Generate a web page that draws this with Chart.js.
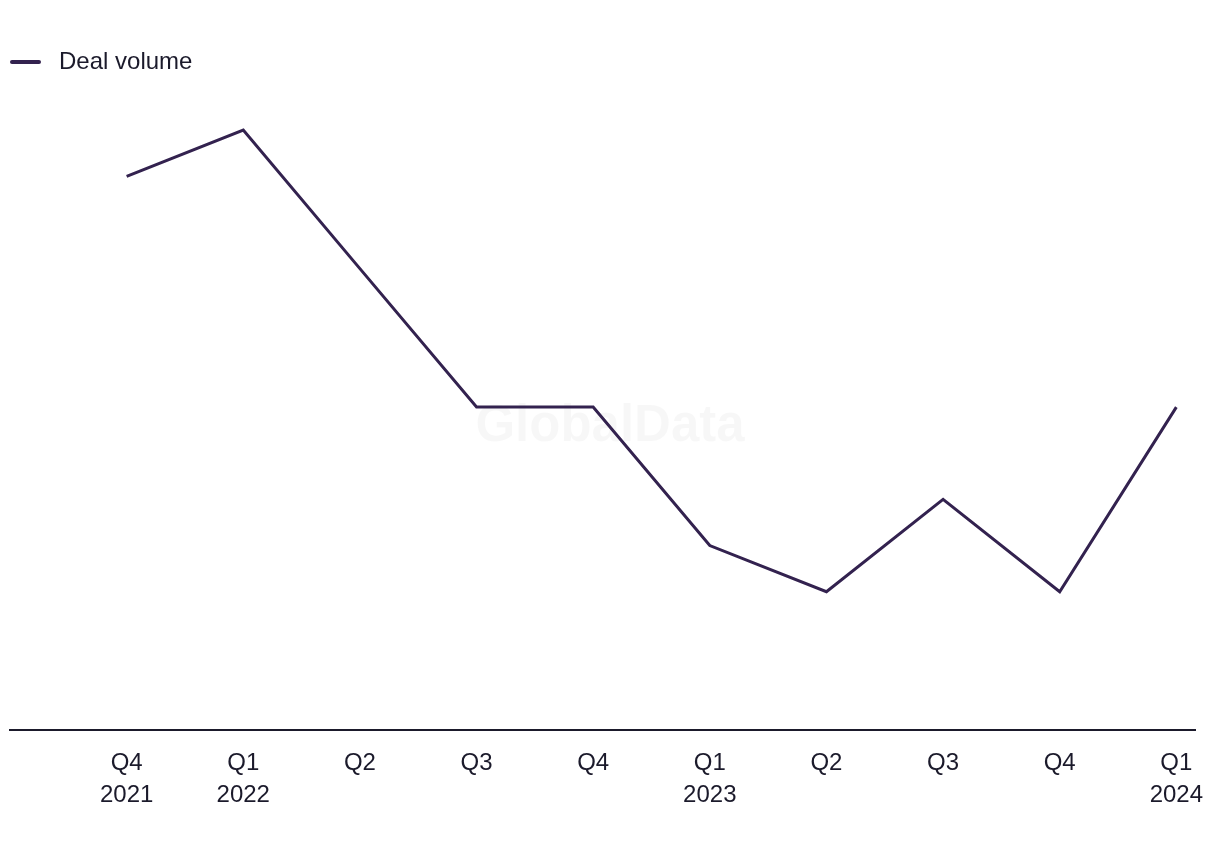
<!DOCTYPE html>
<html>
<head>
<meta charset="utf-8">
<script src="https://cdn.jsdelivr.net/npm/chart.js@4"></script>
<style>
  html, body { margin: 0; padding: 0; background: #fff; }
  #wrap { width: 1220px; height: 850px; }
</style>
</head>
<body>
<div id="wrap"><canvas id="dealchart"></canvas></div>
<script>
const quarters = ['Q4', 'Q1', 'Q2', 'Q3', 'Q4', 'Q1', 'Q2', 'Q3', 'Q4', 'Q1'];
const years = ['2021', '2022', '', '', '', '2023', '', '', '', '2024'];
const dealVolume = [12, 13, 10, 7, 7, 4, 3, 5, 3, 7];

const lineColor = '#33224f';
const textColor = '#1b1a2b';
const fontFamily = '"Liberation Sans", Arial, sans-serif';

// legend marker: short thick line, drawn off-centre so the text sits further right
const marker = document.createElement('canvas');
marker.width = 47;
marker.height = 6;
const mctx = marker.getContext('2d');
mctx.strokeStyle = lineColor;
mctx.lineWidth = 4;
mctx.lineCap = 'round';
mctx.beginPath();
mctx.moveTo(2, 3);
mctx.lineTo(29, 3);
mctx.stroke();

// faint watermark behind the line
const watermark = {
  id: 'watermark',
  beforeDatasetsDraw(chart) {
    const ctx = chart.ctx;
    ctx.save();
    ctx.font = 'bold 51px ' + fontFamily;
    ctx.fillStyle = 'rgba(0, 0, 0, 0.03)';
    ctx.textAlign = 'center';
    ctx.textBaseline = 'middle';
    ctx.fillText('GlobalData', 610, 427);
    ctx.restore();
  }
};

document.addEventListener("DOMContentLoaded", function () {
  const canvas = document.getElementById('dealchart');
  new Chart(canvas.getContext('2d'), {
    type: 'line',
    data: {
      datasets: [{
        label: 'Deal volume',
        data: dealVolume.map((v, i) => ({ x: i, y: v })),
        borderColor: lineColor,
        backgroundColor: lineColor,
        borderWidth: 3,
        pointRadius: 0,
        pointHoverRadius: 0,
        pointStyle: marker,
        tension: 0,
        fill: false
      }]
    },
    options: {
      responsive: true,
      maintainAspectRatio: false,
      animation: false,
      layout: { padding: { top: 40, left: 10, right: 25, bottom: 30 } },
      plugins: {
        tooltip: { enabled: false },
        legend: {
          position: 'top',
          align: 'start',
          labels: {
            usePointStyle: true,
            pointStyleWidth: 27,
            padding: 10,
            color: textColor,
            font: { family: fontFamily, size: 24 }
          }
        }
      },
      scales: {
        x: {
          type: 'linear',
          min: -1,
          max: 9.16,
          grid: { display: false },
          border: { display: true, color: textColor, width: 2 },
          afterBuildTicks(scale) {
            scale.ticks = quarters.map((q, i) => ({ value: i }));
          },
          ticks: {
            padding: 9,
            maxRotation: 0,
            autoSkip: false,
            color: textColor,
            font: { family: fontFamily, size: 24, lineHeight: 1.33 },
            callback: function (value) {
              const i = Math.round(value);
              return years[i] ? [quarters[i], years[i]] : quarters[i];
            }
          }
        },
        y: {
          display: false,
          min: 0,
          max: 14
        }
      }
    },
    plugins: [watermark]
  });
});
</script>
</body>
</html>
